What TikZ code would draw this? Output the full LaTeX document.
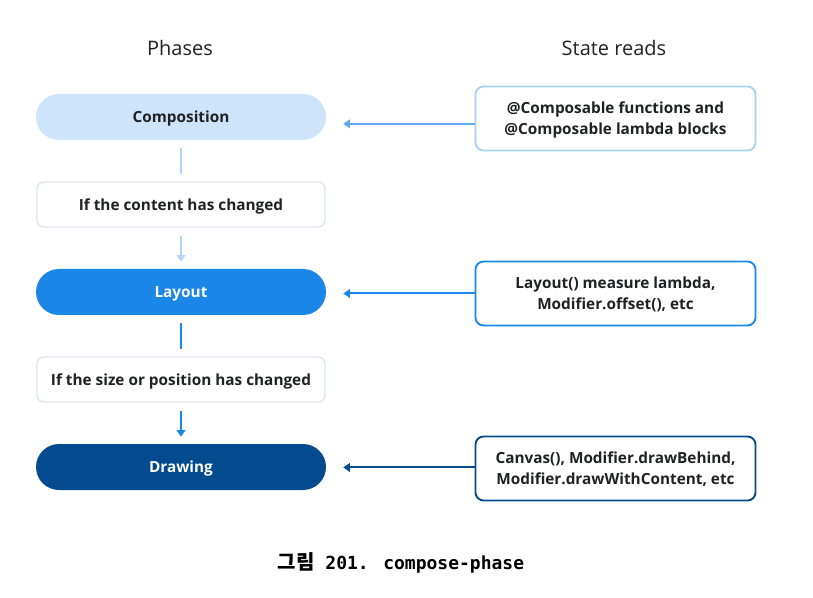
\documentclass[tikz,border=0pt]{standalone}
\usepackage{fontspec}
\setmainfont{Open Sans}
\newfontfamily\krfont{Noto Sans CJK KR}
\newfontfamily\capmono{DejaVu Sans Mono}
\usetikzlibrary{arrows.meta}
\definecolor{txt}{HTML}{202124}
\definecolor{lightfill}{HTML}{CDE4FB}
\definecolor{midfill}{HTML}{1A86E8}
\definecolor{darkfill}{HTML}{044A8F}
\definecolor{lightline}{HTML}{B3D6FA}
\definecolor{lightarrow}{HTML}{5FA9F0}
\definecolor{lightborder}{HTML}{A8D0FA}
\definecolor{grayborder}{HTML}{DCE5EF}
\tikzset{
  phase/.style={rounded corners=17.25pt, minimum width=217.5pt, minimum height=34.5pt, inner sep=0pt, text depth=0pt, font=\fontsize{11.5}{13}\selectfont\bfseries},
  cond/.style={draw=grayborder, line width=1pt, fill=white, rounded corners=5pt, minimum width=216pt, minimum height=33.75pt, inner sep=0pt, text depth=0pt, text=txt, font=\fontsize{11.5}{13}\selectfont\bfseries},
  reads/.style={draw, line width=1.4pt, fill=white, rounded corners=6pt, minimum width=210pt, minimum height=48pt, inner sep=0pt, text depth=0pt, align=center, text=txt, font=\fontsize{11.5}{15.75}\selectfont\bfseries},
  heading/.style={text=txt, font=\fontsize{15}{18}\selectfont},
  vline/.style={line width=1.5pt, shorten <=6pt, shorten >=5.25pt},
  tip/.style={-{Triangle[length=5pt,width=6.5pt]}},
  readarrow/.style={line width=1.5pt, shorten >=12.75pt, -{Triangle[length=5pt,width=6.5pt]}}
}
\begin{document}
\begin{tikzpicture}[x=0.75pt, y=-0.75pt]
\useasboundingbox (0,0) rectangle (813,598);
\node[heading] (hphases) at (180,48) {Phases};
\node[heading] (hreads) at (614,48) {State reads};

\node[phase, fill=lightfill, text=txt] (comp) at (181,117) {Composition};
\node[cond] (content) at (181,204.5) {If the content has changed};
\node[phase, fill=midfill, text=white] (layout) at (181,292) {Layout};
\node[cond] (size) at (181,379.5) {If the size or position has changed};
\node[phase, fill=darkfill, text=white] (drawing) at (181,467) {Drawing};

\node[reads, draw=lightborder] (r1) at (615.5,118.5) {@Composable functions and\\@Composable lambda blocks};
\node[reads, draw=midfill] (r2) at (615.5,293.5) {Layout() measure lambda,\\Modifier.offset(), etc};
\node[reads, draw=darkfill] (r3) at (615.5,468.5) {Canvas(), Modifier.drawBehind,\\Modifier.drawWithContent, etc};

\draw[vline, lightline] (comp) -- (content);
\draw[vline, lightline, tip] (content) -- (layout);
\draw[vline, midfill] (layout) -- (size);
\draw[vline, midfill, tip] (size) -- (drawing);

\draw[readarrow, lightarrow] ([yshift=-4pt]r1.west) -- ([yshift=-4pt]r1.west -| comp.east);
\draw[readarrow, midfill] (r2.west) -- (r2.west -| layout.east);
\draw[readarrow, darkfill] ([yshift=0.8pt]r3.west) -- ([yshift=0.8pt]r3.west -| drawing.east);

\node[text=black, font=\capmono\fontsize{13.5}{16}\selectfont\bfseries] (cap) at (401,563) {{\fontsize{15}{16}\selectfont\krfont\bfseries 그림}\ 201. compose-phase};
\end{tikzpicture}
\end{document}
